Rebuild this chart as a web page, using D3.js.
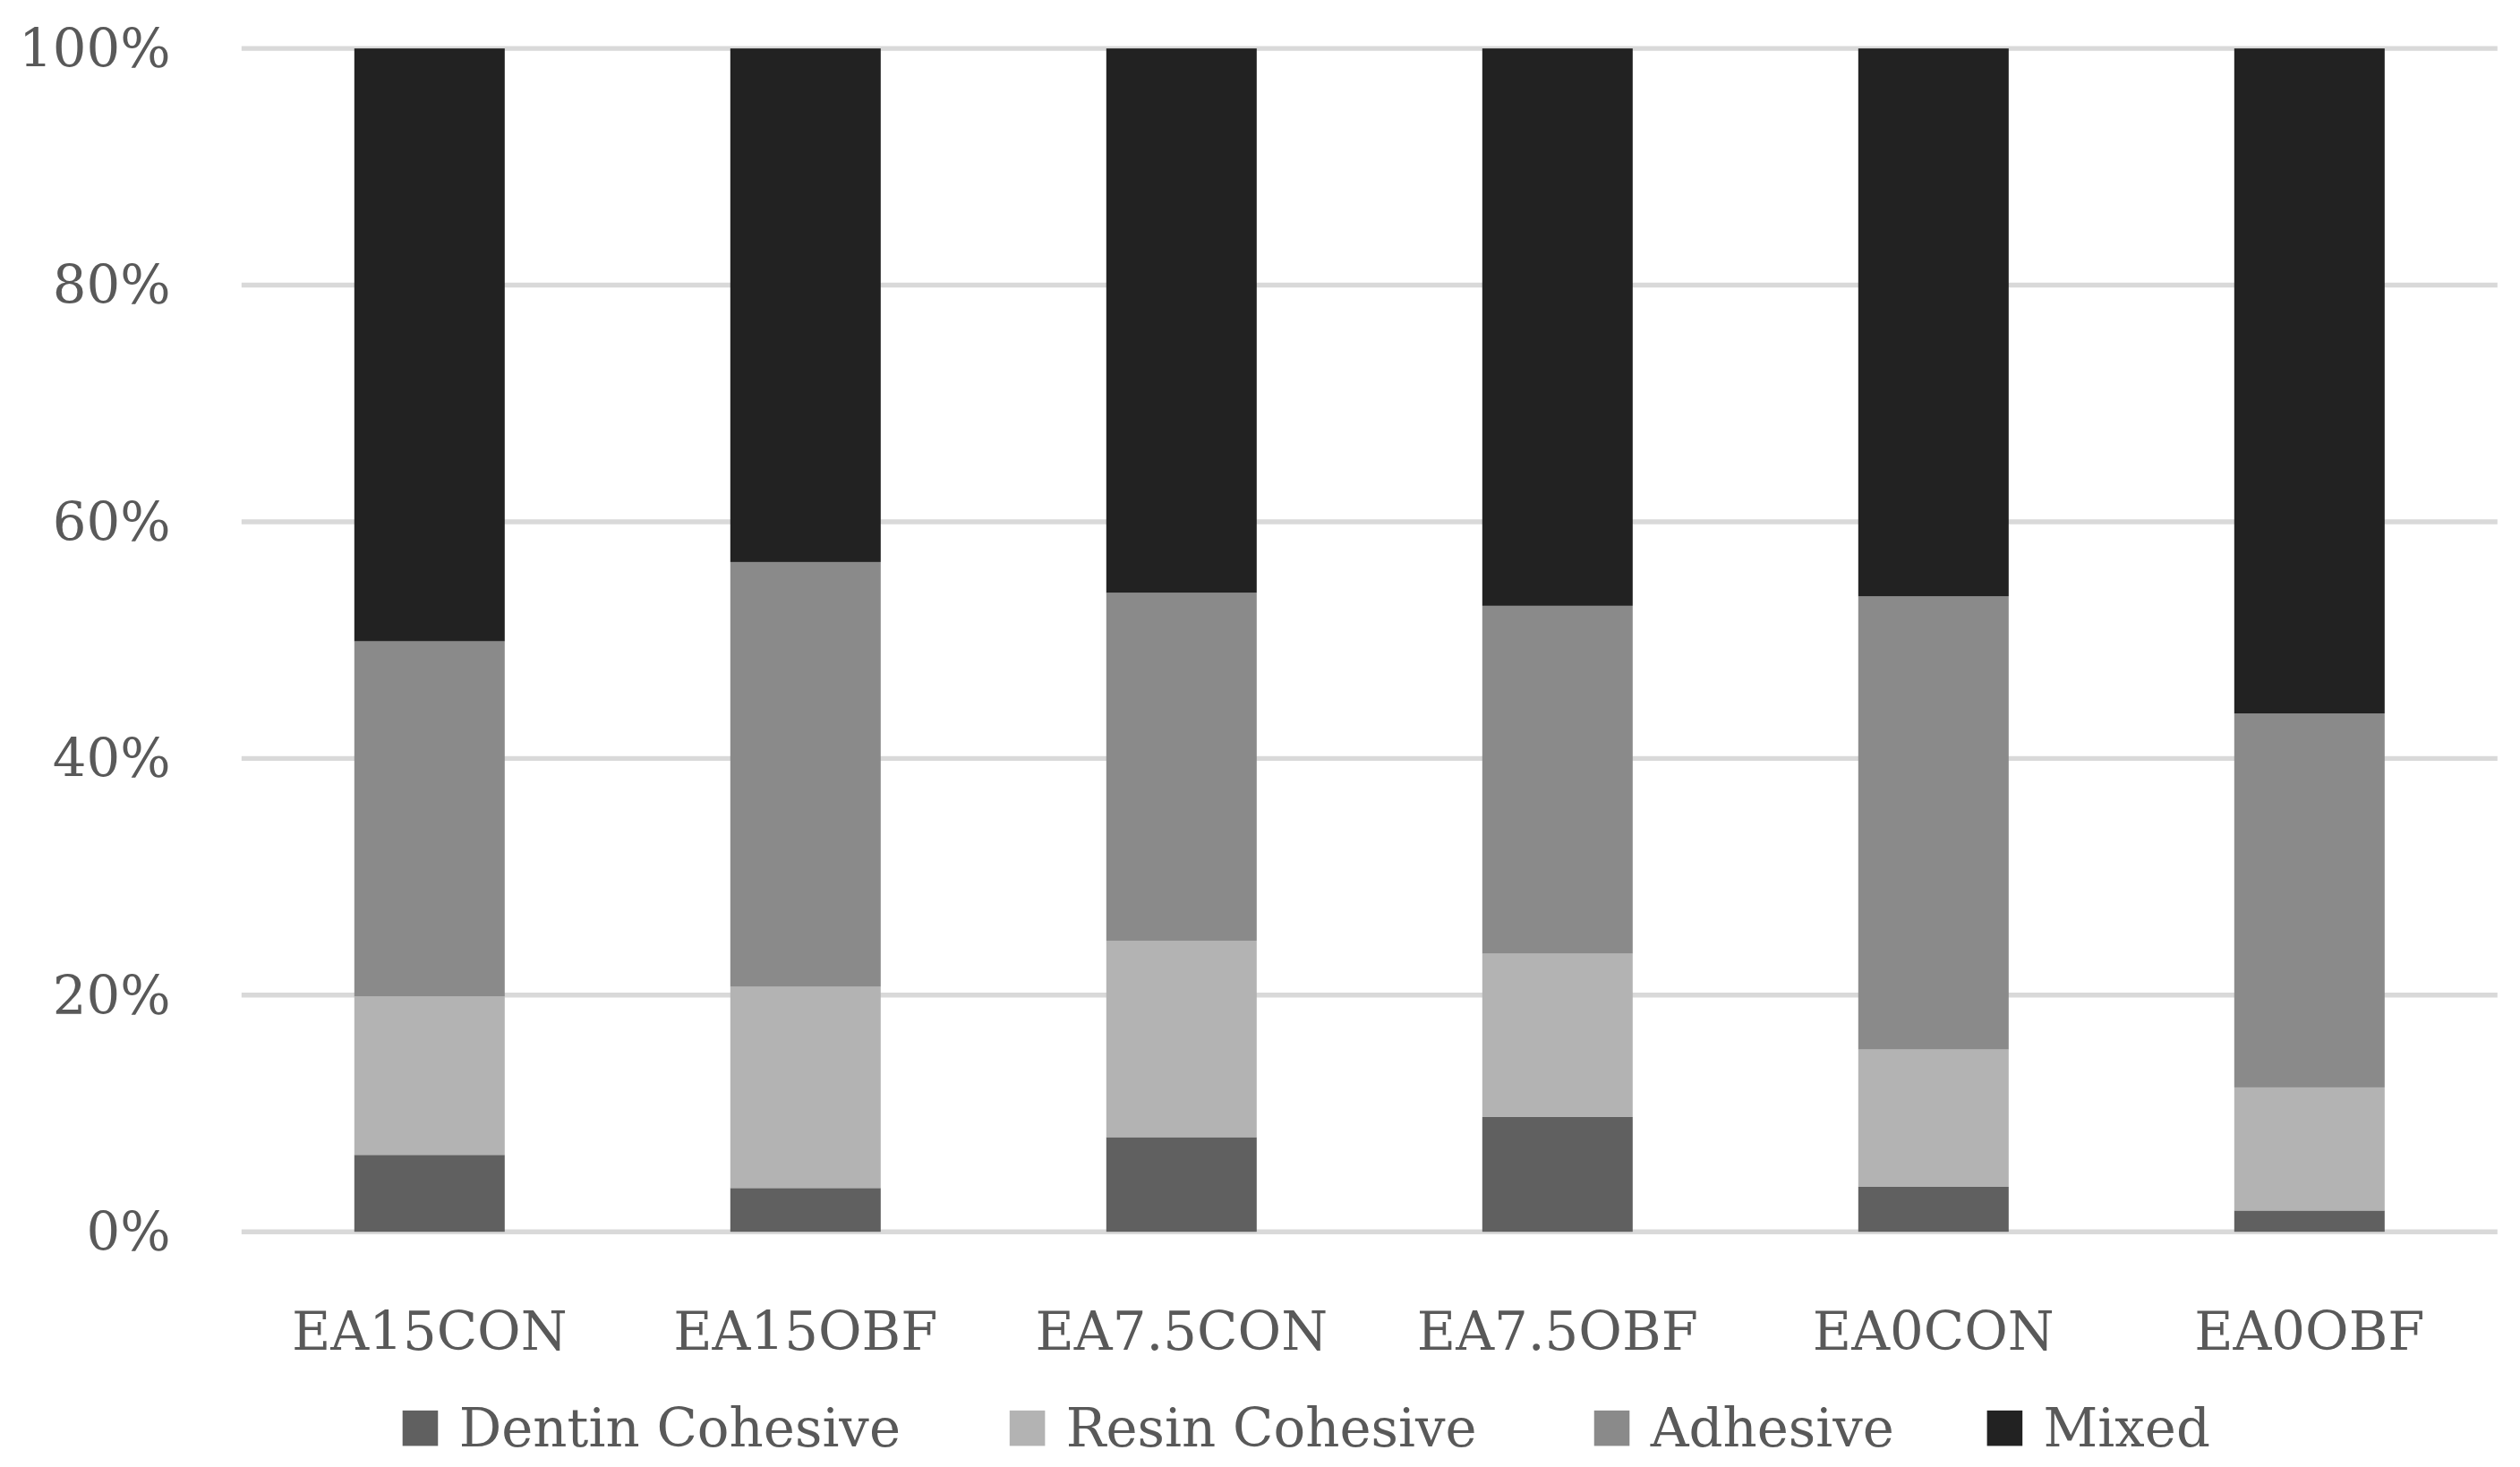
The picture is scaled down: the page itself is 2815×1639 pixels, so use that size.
<!DOCTYPE html>
<html><head><meta charset="utf-8">
<script src="https://cdn.jsdelivr.net/npm/d3@7"></script>
<style>html,body{margin:0;padding:0;background:#fff;overflow:hidden}</style>
</head><body>
<svg id="c" width="2815" height="1639" viewBox="0 0 1565 911"></svg>
<script>
const categories = ["EA15CON","EA15OBF","EA7.5CON","EA7.5OBF","EA0CON","EA0OBF"];
const seriesNames = ["Dentin Cohesive","Resin Cohesive","Adhesive","Mixed"];
const dentin = [6.5,3.7,8.0,9.7,3.8,1.8];
const resin = [13.4,17.0,16.6,13.8,11.6,10.4];
const adhesive = [30.0,35.9,29.4,29.4,38.3,31.6];
const mixed = [50.1,43.4,46.0,47.1,46.3,56.2];
const yTicks = [0,20,40,60,80,100];
const colors = ["#606060","#b3b3b3","#8a8a8a","#222222"];

const svg = d3.select("#c");
const font = "'DejaVu Serif', serif";
const x = d3.scaleBand().domain(categories).range([150,1551]).paddingInner(0.6).paddingOuter(0.3);
const y = d3.scaleLinear().domain([0,100]).range([765,30]);

svg.append("g").selectAll("line").data(yTicks).join("line")
  .attr("x1",150).attr("x2",1551).attr("y1",d=>y(d)).attr("y2",d=>y(d))
  .attr("stroke","#d9d9d9").attr("stroke-width",3);
svg.append("g").selectAll("text").data(yTicks).join("text")
  .attr("x",106).attr("y",d=>y(d)).attr("dy","0.35em").attr("text-anchor","end")
  .attr("font-family",font).attr("font-size",33).attr("fill","#595959").text(d=>d+"%");

const rows = categories.map((c,i)=>({cat:c,"Dentin Cohesive":dentin[i],"Resin Cohesive":resin[i],"Adhesive":adhesive[i],"Mixed":mixed[i]}));
const stack = d3.stack().keys(seriesNames)(rows);
svg.append("g").selectAll("g").data(stack).join("g").attr("fill",(d,i)=>colors[i])
  .selectAll("rect").data(d=>d).join("rect")
  .attr("x",d=>x(d.data.cat)).attr("width",x.bandwidth())
  .attr("y",d=>y(Math.min(d[1],100))).attr("height",d=>y(d[0])-y(Math.min(d[1],100)));

svg.append("g").selectAll("text").data(categories).join("text")
  .attr("x",d=>x(d)+x.bandwidth()/2).attr("y",838).attr("text-anchor","middle")
  .attr("font-family",font).attr("font-size",33).attr("fill","#595959").text(d=>d);

const legX = [250,627,990,1234];
const lg = svg.append("g").selectAll("g").data(seriesNames).join("g")
  .attr("transform",(d,i)=>`translate(${legX[i]},887)`);
lg.append("rect").attr("x",0).attr("y",-11).attr("width",22).attr("height",22).attr("fill",(d,i)=>colors[i]);
lg.append("text").attr("x",35).attr("dy","0.35em").attr("font-family",font).attr("font-size",33)
  .attr("fill","#595959").text(d=>d);
</script>
</body></html>
